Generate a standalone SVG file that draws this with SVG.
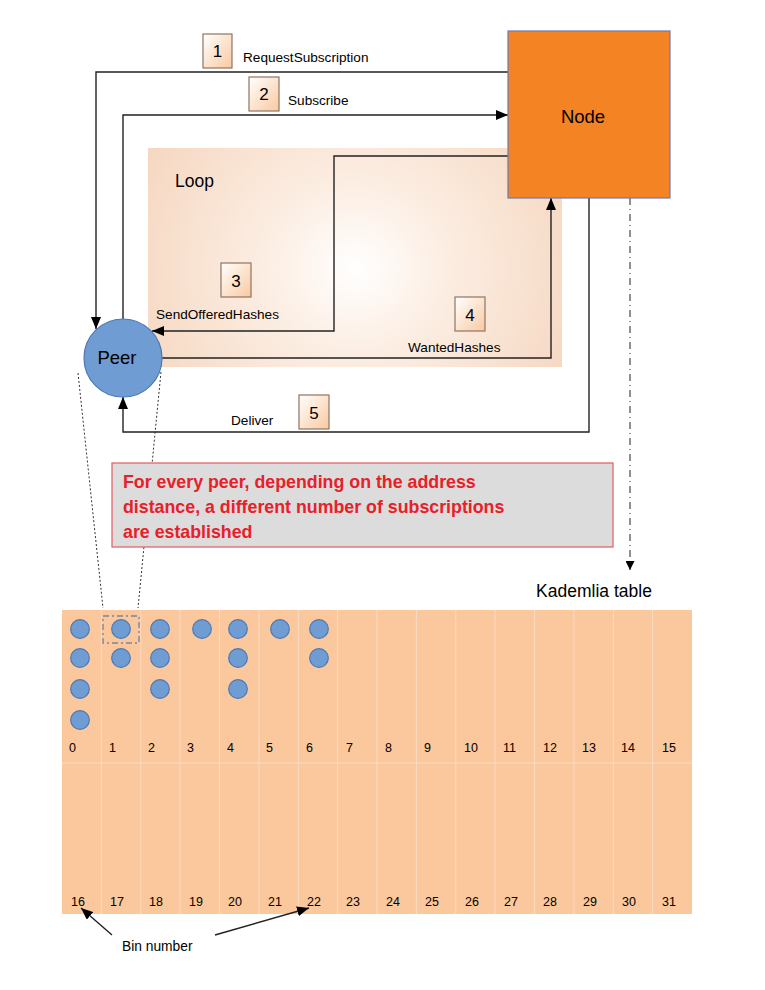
<svg xmlns="http://www.w3.org/2000/svg" width="765" height="990" viewBox="0 0 765 990">
<defs>
<radialGradient id="loopGrad" cx="0.5" cy="0.55" r="0.6" gradientTransform="translate(0.5 0.55) scale(1 1.8) translate(-0.5 -0.55)">
<stop offset="0" stop-color="#FFFFFF"/>
<stop offset="0.35" stop-color="#FCEEE3"/>
<stop offset="1" stop-color="#F5D6BF"/>
</radialGradient>
<linearGradient id="stepGrad" x1="0" y1="0" x2="1" y2="1">
<stop offset="0" stop-color="#FFFFFF"/>
<stop offset="1" stop-color="#F9C9A0"/>
</linearGradient>
<marker id="arr" viewBox="0 0 12 10" refX="12" refY="5" markerWidth="12" markerHeight="10" markerUnits="userSpaceOnUse" orient="auto">
<path d="M0,0 L12,5 L0,10 Z" fill="#000"/>
</marker>
<marker id="arrSmall" viewBox="0 0 10 10" refX="10" refY="5" markerWidth="10" markerHeight="9" markerUnits="userSpaceOnUse" orient="auto">
<path d="M0,0 L10,5 L0,10 Z" fill="#000"/>
</marker>
</defs>
<style>
.t{font-family:"Liberation Sans",Arial,sans-serif;fill:#000}
.lbl{font-size:13.6px}
.num{font-size:12.5px}
.step{fill:url(#stepGrad);stroke:#8C7564;stroke-width:1.2}
.stepn{font-family:"Liberation Sans",Arial,sans-serif;font-size:17px;text-anchor:middle}
.conn{fill:none;stroke:#222;stroke-width:1.4}
.dot{fill:#6F9DD3;stroke:#4A78B3;stroke-width:1.2}
.col{stroke:#FBDCC3;stroke-width:1}
.note{font-family:"Liberation Sans",Arial,sans-serif;font-size:17.8px;font-weight:bold;fill:#E8202A}
</style>
<rect width="765" height="990" fill="#FFFFFF"/>

<g id="loop">
<rect x="148" y="148" width="414" height="219" fill="url(#loopGrad)"/>
<text class="t" x="175" y="187" font-size="17.5">Loop</text>
</g>

<g id="kademlia">
<text class="t" x="594" y="597" font-size="17.5" text-anchor="middle">Kademlia table</text>
<rect x="62" y="610" width="630" height="304" fill="#FBC79C"/>
<g class="col">
<line x1="101.4" y1="610" x2="101.4" y2="914"/>
<line x1="140.8" y1="610" x2="140.8" y2="914"/>
<line x1="180.1" y1="610" x2="180.1" y2="914"/>
<line x1="219.5" y1="610" x2="219.5" y2="914"/>
<line x1="258.9" y1="610" x2="258.9" y2="914"/>
<line x1="298.3" y1="610" x2="298.3" y2="914"/>
<line x1="337.6" y1="610" x2="337.6" y2="914"/>
<line x1="377" y1="610" x2="377" y2="914"/>
<line x1="416.4" y1="610" x2="416.4" y2="914"/>
<line x1="455.8" y1="610" x2="455.8" y2="914"/>
<line x1="495.1" y1="610" x2="495.1" y2="914"/>
<line x1="534.5" y1="610" x2="534.5" y2="914"/>
<line x1="573.9" y1="610" x2="573.9" y2="914"/>
<line x1="613.3" y1="610" x2="613.3" y2="914"/>
<line x1="652.6" y1="610" x2="652.6" y2="914"/>
<line x1="62" y1="763" x2="692" y2="763"/>
</g>
<g id="bins">
<circle class="dot" cx="80" cy="629" r="9.3"/>
<circle class="dot" cx="80" cy="658" r="9.3"/>
<circle class="dot" cx="80" cy="689" r="9.3"/>
<circle class="dot" cx="80" cy="720" r="9.3"/>
<circle class="dot" cx="121" cy="629" r="9.3"/>
<circle class="dot" cx="121" cy="658" r="9.3"/>
<circle class="dot" cx="160" cy="629" r="9.3"/>
<circle class="dot" cx="160" cy="658" r="9.3"/>
<circle class="dot" cx="160" cy="689" r="9.3"/>
<circle class="dot" cx="202" cy="629" r="9.3"/>
<circle class="dot" cx="238" cy="629" r="9.3"/>
<circle class="dot" cx="238" cy="658" r="9.3"/>
<circle class="dot" cx="238" cy="689" r="9.3"/>
<circle class="dot" cx="280" cy="629" r="9.3"/>
<circle class="dot" cx="319" cy="629" r="9.3"/>
<circle class="dot" cx="319" cy="658" r="9.3"/>
<rect x="103" y="616" width="36" height="27" fill="none" stroke="#7D879C" stroke-width="1.4" stroke-dasharray="6,3,2,3"/>
</g>
<g class="t num">
<text x="69" y="752">0</text>
<text x="109" y="752">1</text>
<text x="148" y="752">2</text>
<text x="187" y="752">3</text>
<text x="227" y="752">4</text>
<text x="266" y="752">5</text>
<text x="306" y="752">6</text>
<text x="346" y="752">7</text>
<text x="385" y="752">8</text>
<text x="424" y="752">9</text>
<text x="464" y="752">10</text>
<text x="503" y="752">11</text>
<text x="543" y="752">12</text>
<text x="582" y="752">13</text>
<text x="621" y="752">14</text>
<text x="662" y="752">15</text>
<text x="71" y="906">16</text>
<text x="110" y="906">17</text>
<text x="149" y="906">18</text>
<text x="189" y="906">19</text>
<text x="228" y="906">20</text>
<text x="268" y="906">21</text>
<text x="307" y="906">22</text>
<text x="346" y="906">23</text>
<text x="386" y="906">24</text>
<text x="425" y="906">25</text>
<text x="465" y="906">26</text>
<text x="504" y="906">27</text>
<text x="543" y="906">28</text>
<text x="583" y="906">29</text>
<text x="622" y="906">30</text>
<text x="662" y="906">31</text>
</g>
<text class="t" x="122" y="951" font-size="13.8">Bin number</text>
</g>

<g id="connectors">
<path class="conn" d="M508,72 H96 V329" marker-end="url(#arr)"/>
<path class="conn" d="M123,319 V115 H508" marker-end="url(#arr)"/>
<path class="conn" d="M508,156 H334 V331 H152" marker-end="url(#arr)"/>
<path class="conn" d="M162,358 H551 V198" marker-end="url(#arr)"/>
<path class="conn" d="M589,198 V432 H123 V397" marker-end="url(#arr)"/>
<path d="M630,198 V570" fill="none" stroke="#222" stroke-width="1" stroke-dasharray="7,4,1,4" marker-end="url(#arrSmall)"/>
<path d="M78,373 L103,608" fill="none" stroke="#333" stroke-width="1" stroke-dasharray="2,2"/>
<path d="M161,372 L138,608" fill="none" stroke="#333" stroke-width="1" stroke-dasharray="2,2"/>
<path class="conn" d="M112,935 L81,908" stroke-width="1.1" marker-end="url(#arr)"/>
<path class="conn" d="M215,935 L309,908" stroke-width="1.1" marker-end="url(#arr)"/>
</g>

<g id="step1">
<rect class="step" x="203" y="34" width="29" height="34"/>
<text class="stepn" x="217.5" y="57">1</text>
<text class="t lbl" x="243" y="62">RequestSubscription</text>
</g>
<g id="step2">
<rect class="step" x="249" y="77" width="30" height="34"/>
<text class="stepn" x="264" y="100">2</text>
<text class="t lbl" x="288" y="105">Subscribe</text>
</g>
<g id="step3">
<rect class="step" x="221" y="263" width="30" height="34"/>
<text class="stepn" x="236" y="287">3</text>
<text class="t lbl" x="156" y="319">SendOfferedHashes</text>
</g>
<g id="step4">
<rect class="step" x="455" y="297" width="30" height="34"/>
<text class="stepn" x="470" y="321">4</text>
<text class="t lbl" x="408" y="352">WantedHashes</text>
</g>
<g id="step5">
<rect class="step" x="299" y="395" width="30" height="34"/>
<text class="stepn" x="314" y="419">5</text>
<text class="t lbl" x="231" y="425">Deliver</text>
</g>

<g id="node">
<rect x="508" y="31" width="162" height="167" fill="#F48324" stroke="#6B7AB3" stroke-width="1.2"/>
<text class="t" x="583" y="123" font-size="18.5" text-anchor="middle">Node</text>
</g>

<g id="peer">
<circle cx="123" cy="358" r="39" fill="#6F9DD3" stroke="#4A78B3" stroke-width="1.2"/>
<text class="t" x="117" y="364" font-size="18.5" text-anchor="middle">Peer</text>
</g>

<g id="note">
<rect x="112" y="463" width="501" height="84" fill="#DCDCDC" stroke="#E45A62" stroke-width="1.2"/>
<text class="note" x="123" y="488">For every peer, depending on the address</text>
<text class="note" x="123" y="513">distance, a different number of subscriptions</text>
<text class="note" x="123" y="538">are established</text>
</g>
</svg>
